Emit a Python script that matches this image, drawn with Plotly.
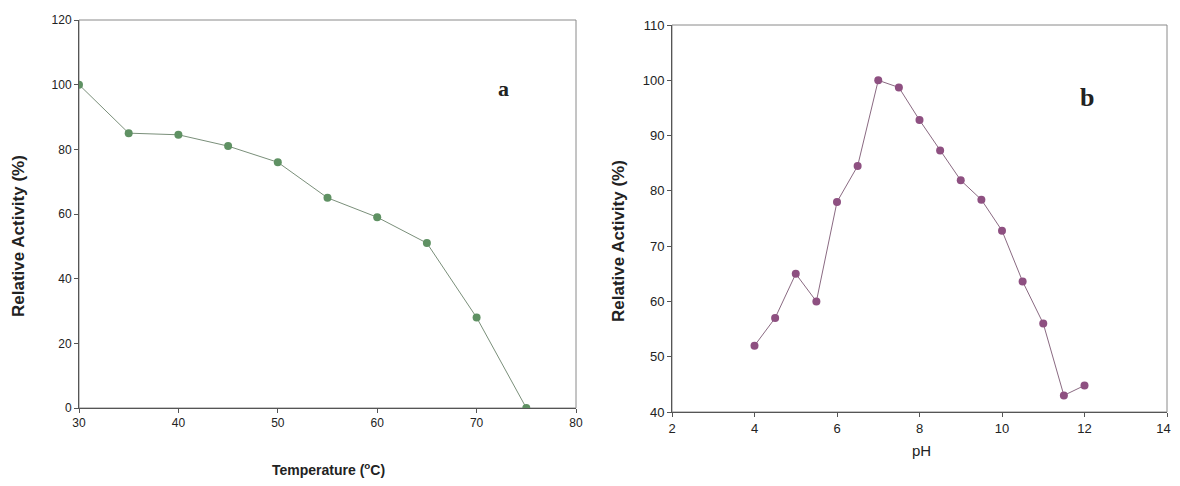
import plotly.graph_objects as go

# ---- data ----
temp_c = [30, 35, 40, 45, 50, 55, 60, 65, 70, 75]
temp_activity = [100, 85, 84.5, 81, 76, 65, 59, 51, 28, 0]

ph_values = [4, 4.5, 5, 5.5, 6, 6.5, 7, 7.5, 8, 8.5, 9, 9.5, 10, 10.5, 11, 11.5, 12]
ph_activity = [52, 57, 65, 60, 78, 84.5, 100, 98.7, 92.8, 87.3, 81.9, 78.4, 72.8, 63.6, 56, 43, 44.8]

temp_ticks = [30, 40, 50, 60, 70, 80]
temp_act_ticks = [0, 20, 40, 60, 80, 100, 120]
ph_ticks = [2, 4, 6, 8, 10, 12, 14]
ph_tick_labels = ["2", "4", "6", "8", "10", "12", "14\u00a0\u00a0"]
ph_act_ticks = [40, 50, 60, 70, 80, 90, 100, 110]

OFF = 8  # page body margin offset
W, H = 1180 - OFF, 486 - 2 * OFF
GREEN = "#5f9163"
PURPLE = "#8e5081"
LINE = "#8a8a8a"
FONT = "Liberation Sans, Arial, sans-serif"

fig = go.Figure()

fig.add_trace(go.Scatter(
    x=temp_c, y=temp_activity, mode="lines+markers",
    line=dict(color="#7a8f7a", width=1),
    marker=dict(color=GREEN, size=8),
    xaxis="x", yaxis="y", showlegend=False))

fig.add_trace(go.Scatter(
    x=ph_values, y=ph_activity, mode="lines+markers",
    line=dict(color="#8a6a82", width=1),
    marker=dict(color=PURPLE, size=8),
    xaxis="x2", yaxis="y2", showlegend=False))

def px_x(p):
    return (p - OFF) / W

def px_y(p):
    return 1 - (p - OFF) / H

def axis_style(size):
    return dict(
        showgrid=False, zeroline=False, showline=True, linecolor="#555555", linewidth=1,
        ticks="outside", ticklen=4, tickcolor="#555555", automargin=False,
        ticklabeloverflow="allow",
        tickfont=dict(family=FONT, size=size, color="#222222"), fixedrange=True)

fig.update_layout(
    width=W, height=H,
    margin=dict(l=0, r=0, t=0, b=0, pad=0, autoexpand=False),
    paper_bgcolor="white", plot_bgcolor="white",
    xaxis=dict(domain=[px_x(79), px_x(576)], range=[30, 80], tickvals=temp_ticks,
               anchor="y", **axis_style(12)),
    yaxis=dict(domain=[px_y(408), px_y(20)], range=[0, 120], tickvals=temp_act_ticks,
               anchor="x", **axis_style(12)),
    xaxis2=dict(domain=[px_x(672), px_x(1167)], range=[2, 14], tickvals=ph_ticks,
                ticktext=ph_tick_labels, anchor="y2", **axis_style(13)),
    yaxis2=dict(domain=[px_y(412), px_y(25)], range=[40, 110], tickvals=ph_act_ticks,
                anchor="x2", **axis_style(13)),
)

# plot-area frames (lighter top/right borders)
fig.add_shape(type="rect", xref="x domain", yref="y domain", x0=0, x1=1, y0=0, y1=1,
              line=dict(color=LINE, width=1), layer="below")
fig.add_shape(type="rect", xref="x2 domain", yref="y2 domain", x0=0, x1=1, y0=0, y1=1,
              line=dict(color=LINE, width=1), layer="below")

ann = []
ann.append(dict(text="<b>Relative Activity (%)</b>", x=px_x(18), y=px_y(236),
                textangle=-90, font=dict(family=FONT, size=17, color="#222222")))
ann.append(dict(text="<b>Temperature (<sup>o</sup>C)</b>", x=px_x(328), y=px_y(469),
                font=dict(family=FONT, size=14, color="#222222")))
ann.append(dict(text="<b>Relative Activity (%)</b>", x=px_x(618), y=px_y(241),
                textangle=-90, font=dict(family=FONT, size=17, color="#222222")))
ann.append(dict(text="pH", x=px_x(921), y=px_y(450),
                font=dict(family=FONT, size=15, color="#222222")))
ann.append(dict(text="<b>a</b>", x=px_x(503), y=px_y(88),
                font=dict(family="Liberation Serif, Times New Roman, serif", size=22, color="#222222")))
ann.append(dict(text="<b>b</b>", x=px_x(1087), y=px_y(97),
                font=dict(family="Liberation Serif, Times New Roman, serif", size=26, color="#222222")))
for a in ann:
    a.update(xref="paper", yref="paper", showarrow=False, xanchor="center", yanchor="middle")
fig.update_layout(annotations=ann)

fig.write_html("out.html")
